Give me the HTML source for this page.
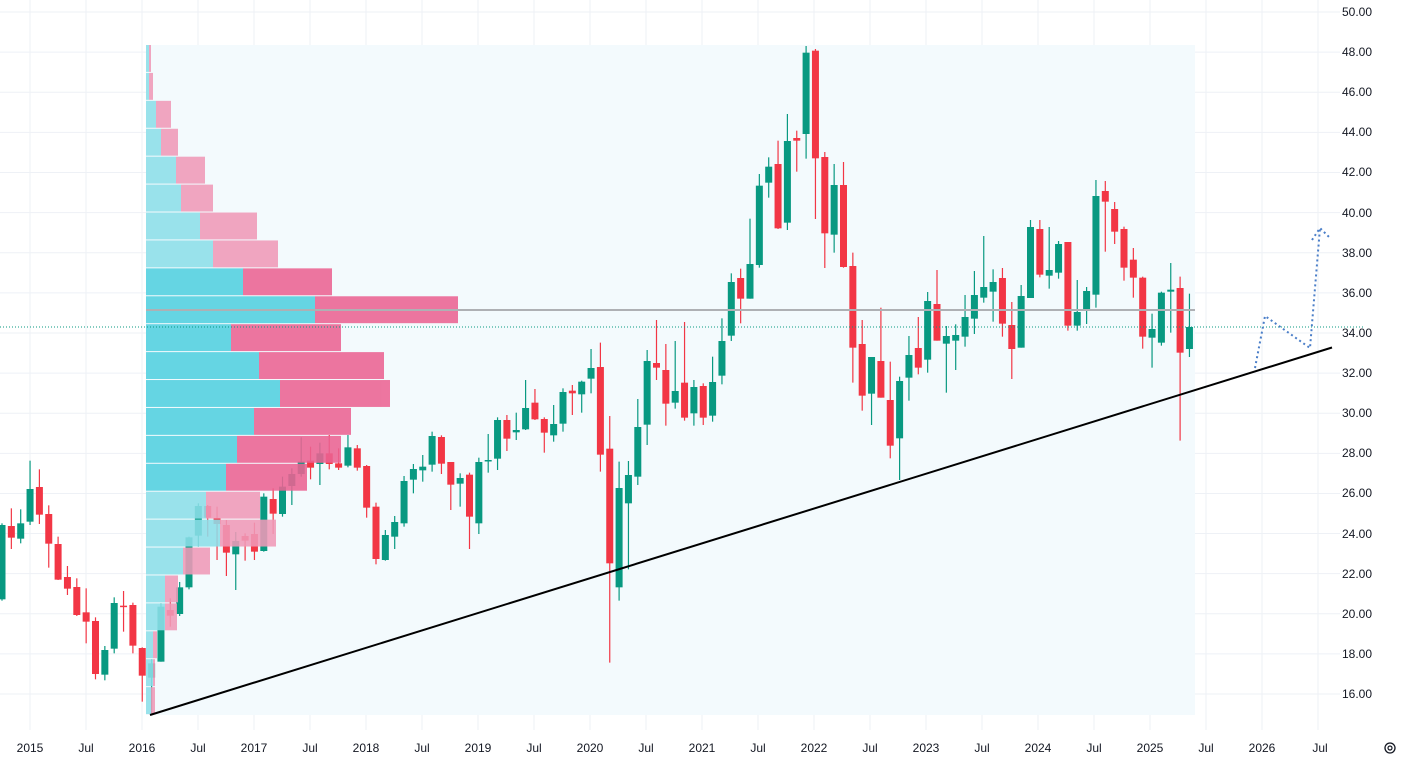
<!DOCTYPE html>
<html><head><meta charset="utf-8">
<style>
html,body{margin:0;padding:0;background:#fff;}
svg{display:block;font-family:"Liberation Sans",sans-serif;}
</style></head>
<body>
<svg id="c" width="1408" height="762" viewBox="0 0 1408 762" xmlns="http://www.w3.org/2000/svg">
<rect width="1408" height="762" fill="#fff"/>
<g id="grid" stroke="#eef1f6" stroke-width="1"></g>
<rect x="146" y="45" width="1049" height="670" fill="#f3fafd"/>
<g id="candles"></g>
<g id="vp" opacity="0.88"></g>
<line x1="146" y1="310" x2="1195" y2="310" stroke="#aeb0b4" stroke-width="2"/>
<line x1="0" y1="327" x2="1365" y2="327" stroke="#089981" stroke-width="1" stroke-dasharray="1,2"/>
<line x1="150" y1="715" x2="1332" y2="347.5" stroke="#000" stroke-width="2"/>
<polyline points="1255,368 1265,316 1310,348 1320,228" fill="none" stroke="#4a7ec8" stroke-width="2" stroke-dasharray="2,3"/>
<polyline points="1312,240 1320,228 1330,238" fill="none" stroke="#4a7ec8" stroke-width="2" stroke-dasharray="2,3"/>
<g font-size="12" fill="#131722" text-anchor="end">
<text x="1372" y="16">50.00</text><text x="1372" y="56">48.00</text><text x="1372" y="96">46.00</text><text x="1372" y="136">44.00</text><text x="1372" y="176">42.00</text><text x="1372" y="217">40.00</text><text x="1372" y="257">38.00</text><text x="1372" y="297">36.00</text><text x="1372" y="337">34.00</text><text x="1372" y="377">32.00</text><text x="1372" y="417">30.00</text><text x="1372" y="457">28.00</text><text x="1372" y="497">26.00</text><text x="1372" y="538">24.00</text><text x="1372" y="578">22.00</text><text x="1372" y="618">20.00</text><text x="1372" y="658">18.00</text><text x="1372" y="698">16.00</text>
</g>
<g font-size="12" fill="#131722" text-anchor="middle">
<text x="30" y="752">2015</text><text x="86" y="752">Jul</text><text x="142" y="752">2016</text><text x="198" y="752">Jul</text><text x="254" y="752">2017</text><text x="310" y="752">Jul</text><text x="366" y="752">2018</text><text x="422" y="752">Jul</text><text x="478" y="752">2019</text><text x="534" y="752">Jul</text><text x="590" y="752">2020</text><text x="646" y="752">Jul</text><text x="702" y="752">2021</text><text x="758" y="752">Jul</text><text x="814" y="752">2022</text><text x="870" y="752">Jul</text><text x="926" y="752">2023</text><text x="982" y="752">Jul</text><text x="1038" y="752">2024</text><text x="1094" y="752">Jul</text><text x="1150" y="752">2025</text><text x="1206" y="752">Jul</text><text x="1262" y="752">2026</text><text x="1320" y="752">Jul</text>
</g>
<circle cx="1390" cy="748" r="5" fill="none" stroke="#131722" stroke-width="1.3"/>
<circle cx="1390" cy="748" r="2" fill="none" stroke="#131722" stroke-width="1.2"/>
</svg>
<script>
var NS="http://www.w3.org/2000/svg";
function el(p,t,a){var e=document.createElementNS(NS,t);for(var k in a)e.setAttribute(k,a[k]);p.appendChild(e);return e;}
var g=document.getElementById('grid');
for(var i=0;i<24;i++){var x=30+i*56;el(g,'line',{x1:x,y1:0,x2:x,y2:730});}
for(var i=0;i<18;i++){var y=12+i*40.12;el(g,'line',{x1:0,y1:y,x2:1340,y2:y});}
// [bodyTop, bodyBot, wickTop, wickBot, color] in zoom units
var s1=[[435,658,430,662,'g'],[438,473,385,507,'r'],[430,476,388,490,'g'],[327,425,242,435,'g'],[321,404,268,432,'r'],[402,491,376,563,'r'],[492,599,470,600,'r'],[591,626,558,645,'r'],[621,705,595,708,'r'],[697,725,625,790,'r'],[723,882,712,898,'r'],[810,884,798,901,'g'],[669,806,652,820,'g'],[677,681,633,755,'r'],[675,797,668,820,'r'],[804,887,802,965,'r'],[850,893,838,1000,'g'],[680,845,670,845,'g'],[690,707,655,740,'r'],[622,702,606,708,'g'],[472,622,470,628,'g'],[378,467,370,500,'g'],[378,413,375,470,'r'],[414,432,380,540,'r'],[435,518,420,588,'r'],[483,523,456,630,'g'],[468,482,460,542,'r'],[462,515,428,540,'r'],[350,513,340,515,'g'],[357,401,325,462,'r'],[320,402,290,410,'g'],[282,318,265,375,'g'],[245,282,172,290,'g'],[242,263,200,298,'r'],[220,252,188,315,'g'],[220,252,165,268,'r'],[250,263,205,270,'r'],[202,257,165,262,'g'],[205,263,195,272,'r'],[258,383,255,413,'r'],[380,537,368,553,'r']];
var s2=[[615,690,600,692,'g'],[576,620,558,657,'g'],[453,580,438,590,'g'],[417,449,402,490,'g'],[410,421,375,455,'g'],[318,404,305,425,'g'],[321,401,316,432,'r'],[396,464,396,540,'r'],[444,461,430,530,'g'],[434,560,428,657,'r'],[396,580,383,612,'g'],[390,392,312,428,'g'],[270,386,262,420,'g'],[270,326,255,363,'r'],[300,307,248,330,'g'],[234,298,150,300,'g'],[218,268,177,270,'r'],[267,308,262,368,'r'],[282,316,225,335,'g'],[186,281,175,305,'g'],[182,190,165,255,'r'],[155,193,152,248,'g'],[114,146,57,190,'g'],[111,374,38,425,'r'],[356,700,258,998,'r'],[474,772,395,812,'g'],[435,520,393,718,'g'],[291,440,207,465,'g'],[93,284,60,345,'g'],[99,113,-30,150,'r'],[120,221,42,287,'r'],[183,218,33,236,'g'],[158,263,-24,272,'r'],[171,250,150,287,'g']];
var s3=[[1038,1133,1030,1155,'r'],[1026,1127,950,1145,'g'],[903,1007,835,1033,'g'],[726,887,700,903,'g'],[714,776,686,850,'r'],[672,776,536,776,'g'],[437,675,402,683,'g'],[380,428,352,473,'g'],[372,565,302,567,'r'],[303,548,222,570,'g'],[294,302,272,395,'r'],[38,282,18,356,'g'],[32,355,27,537,'r'],[351,580,336,684,'r'],[435,584,372,638,'g'],[435,681,366,683,'r'],[678,923,638,1028,'r'],[912,1067,840,1112,'r'],[951,1061,951,1155,'g'],[963,1073,803,1073,'r'],[1080,1217,965,1255,'r'],[1023,1195,1010,1320,'g'],[945,1013,888,1082,'g'],[924,983,831,1003,'r'],[783,959,756,998,'g'],[792,902,690,902,'r']];
var s4=[[498,521,468,668,'g'],[495,512,463,600,'g'],[441,500,375,530,'g'],[375,446,303,492,'g'],[351,383,198,398,'g'],[336,365,298,455,'g'],[324,461,294,500,'r'],[465,537,396,627,'r'],[378,533,345,533,'g'],[171,384,150,384,'g'],[177,314,150,322,'r'],[300,317,171,356,'g'],[222,308,213,326,'g'],[216,467,216,482,'r'],[426,467,330,482,'g'],[363,417,351,462,'g'],[78,374,30,413,'g'],[63,95,33,245,'r'],[117,185,96,222,'r'],[177,293,170,332,'r'],[269,323,234,383,'r'],[323,500,320,536,'r'],[477,503,431,593,'g'],[368,518,365,527,'g'],[359,365,279,488,'g'],[354,548,320,812,'r'],[471,537,371,561,'g']];
var cg=document.getElementById('candles');
var idx=0;
[[s1,380],[s2,330],[s3,40],[s4,170]].forEach(function(p){
  p[0].forEach(function(c){
    var x=2+9.35*idx; idx++;
    var col=c[4]=='g'?'#089981':'#f23645';
    var bt=p[1]+c[0]/3,bb=p[1]+c[1]/3,wt=p[1]+c[2]/3,wb=p[1]+c[3]/3;
    el(cg,'line',{x1:x,y1:wt,x2:x,y2:wb,stroke:col,'stroke-width':1.2});
    el(cg,'rect',{x:x-3.5,y:bt,width:7,height:Math.max(1.5,bb-bt),fill:col});
  });
});
var rows=[[149,151],[149,153],[156,171],[161,178],[176,205],[181,213],[200,257],[213,278],[243,332],[315,458],[231,341],[259,384],[280,390],[254,351],[237,341],[226,307],[206,260],[220,276],[183,210],[165,178],[165,177],[153,157],[153,155],[151,155]];
var vp=document.getElementById('vp');
rows.forEach(function(r,i){
  var y=45+i*27.92, h=26.9, dark=(i>=8&&i<=15);
  el(vp,'rect',{x:146,y:y,width:r[0]-146,height:h,fill:dark?'#52d0e0':'#8ddfe9'});
  el(vp,'rect',{x:r[0],y:y,width:Math.max(0,r[1]-r[0]),height:h,fill:dark?'#ec6393':'#f09ab8'});
});
</script>
</body></html>
